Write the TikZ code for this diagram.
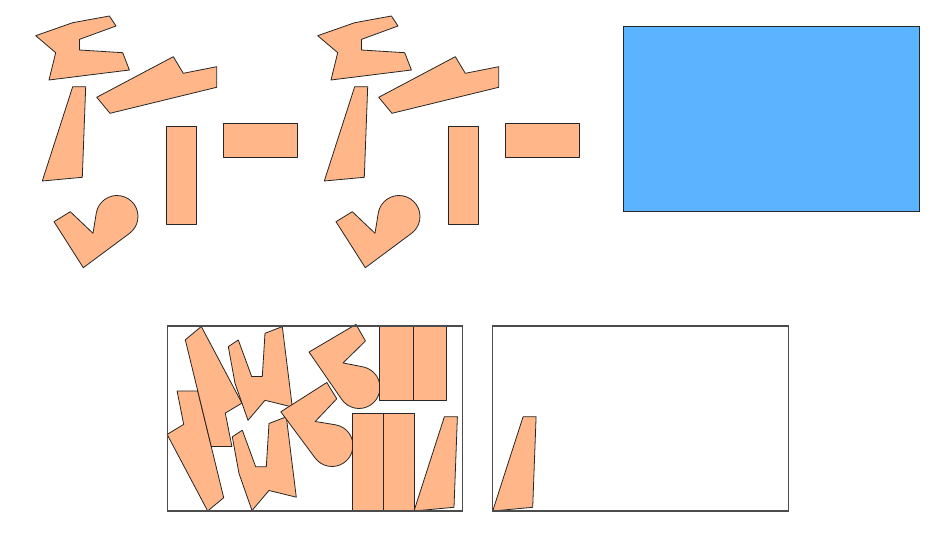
\documentclass[tikz,border=0pt]{standalone}
\usepackage{tikz}
\definecolor{Peach}{RGB}{255,182,136}
\definecolor{Sky}{RGB}{92,179,255}

\newcommand{\zpart}{(0,0) -- (37,-13) -- (73.7,-19.7) -- (80.3,-9.7) -- (43.7,3.7) -- (43.7,14.3) -- (87,17) -- (93.7,34.3) -- (13.3,44.3) -- (20,17) -- cycle}
\newcommand{\wedgepart}{(0,0) -- (30.4,-94.3) -- (43.4,-94.3) -- (40,-3.7) -- cycle}
\newcommand{\steppart}{(0,0) -- (76.6,-40.6) -- (86.6,-24) -- (120,-30.6) -- (120,-10) -- (13.3,16) -- cycle}
\newcommand{\hookpart}{(-63,5.2) -- (-46.7,-4.8) -- (-24,16.8) -- (190:21) arc[start angle=190, end angle=413.4, radius=21] -- (-33.7,51.2) -- cycle}

\begin{document}
\begin{tikzpicture}[x=1pt, y=-1pt,
  piece/.style={draw=black!85, fill=Peach, line width=0.8pt, line join=round},
  sheet/.style={draw=black!85, fill=Sky, line width=1pt},
  bin/.style={draw=black!70, line width=1.1pt}]
\useasboundingbox (0,0) rectangle (938,537);

\foreach \dx in {0,282} {
  \begin{scope}[shift={(\dx,0)}]
    \draw[piece, shift={(35.7,35.7)}] \zpart;
    \draw[piece, shift={(42.3,181)}] \wedgepart;
    \draw[piece, shift={(96.7,97.3)}] \steppart;
    \draw[piece] (166,126.7) rectangle +(30.7,97.6);
    \draw[piece] (223.3,123.5) rectangle +(74.4,33.5);
    \draw[piece, shift={(117,216.5)}] \hookpart;
  \end{scope}
}
\draw[sheet] (623.3,26.3) rectangle +(296,185);

\draw[piece, shift={(207.7,511)}, rotate=90] \steppart;
\draw[piece, shift={(201.3,326.5)}, rotate=-90] \steppart;
\draw[piece, shift={(248,420.3)}, rotate=90] \zpart;
\draw[piece, shift={(252,510.5)}, rotate=90] \zpart;
\draw[piece, shift={(359,387.5)}, rotate=-92] \hookpart;
\draw[piece, shift={(332,445.5)}, rotate=-90] \hookpart;
\foreach \x in {379.6,413}
  \draw[piece] (\x,326) rectangle +(33.4,74.4);
\foreach \x in {352.5,383.2}
  \draw[piece] (\x,413.4) rectangle +(30.7,97.6);
\draw[piece, shift={(414,511)}] \wedgepart;
\draw[bin] (167.3,326) rectangle +(295.4,185);

\draw[piece, shift={(492.7,511)}] \wedgepart;
\draw[bin] (492.7,326) rectangle +(296,185);
\end{tikzpicture}
\end{document}
